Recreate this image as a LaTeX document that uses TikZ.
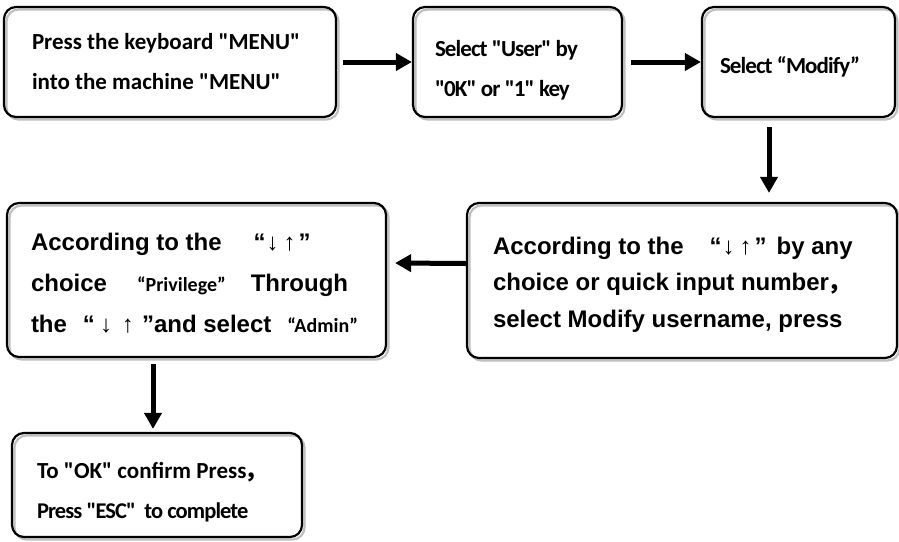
\documentclass[tikz,border=0pt]{standalone}
\usepackage{fontspec}
\setmainfont{Liberation Sans}
\newfontfamily\calibri{Carlito}
\newfontfamily\calibritight{Carlito}[LetterSpace=-4]
\newfontfamily\cjk{Noto Sans CJK SC}
\usetikzlibrary{arrows.meta,positioning,calc,shadows}
\def \fcomma {{\kern-2pt\cjk\bfseries ，}}
\def \updown {“\kern1pt↓\kern5pt↑\kern3pt”}
\def \updownwide {“\kern5pt↓\kern10pt↑\kern8pt”}
\def \cal #1{{\calibri\fontsize{20}{41}\selectfont #1}}

\begin{document}
\begin{tikzpicture} [
    x=1pt, y=-1pt, >={Triangle[length=16pt,width=17pt]},
    box/.style = {rectangle,rounded corners=12pt,draw=black,line width=2.2pt,align=flush left,
        drop shadow={shadow xshift=2.5pt,shadow yshift=-2.5pt,fill=none,draw=black!25,line width=2.2pt,opacity=1}},
    flow/.style = {->,line width=5pt},
    calfont/.style = {font=\calibri\bfseries\fontsize{23}{40}\selectfont},
    narrow/.style = {font=\calibritight\bfseries\fontsize{23}{40}\selectfont},
    arialfont/.style = {font=\bfseries\fontsize{24}{36.5}\selectfont},
    arialwide/.style = {font=\bfseries\fontsize{24}{41}\selectfont}
    ]

    \useasboundingbox (0,0) rectangle (899,541);

    % top row
    \node (b1) [box,calfont,text width=276pt,inner xsep=28pt,minimum height=110pt] at (170,62)
        {Press the keyboard "MENU"\\into the machine "MENU"};
    \node (b2) [box,narrow,text width=165pt,inner xsep=22pt,minimum height=110pt] at (517.5,62)
        {\rule{0pt}{32pt}Select "User" by\\"0K" or "1" key};
    \node (b3) [box,narrow,text width=157pt,inner xsep=18pt,minimum height=110pt] at (798.5,62)
        {\rule{0pt}{26pt}Select “Modify”};

    % middle row
    \node (b4) [box,arialfont,text width=378pt,inner xsep=26pt,minimum height=155pt] at (682,280.5)
        {\rule{0pt}{25pt}According to the\hspace{26pt}\updown\hspace{10pt}by any\\choice or quick input number\fcomma\\select Modify username, press};
    \node (b5) [box,arialwide,text width=331pt,inner xsep=24pt,minimum height=154pt] at (196.5,280)
        {\rule{0pt}{23pt}According to the\hspace{32pt}\updown\\choice\hspace{30pt}\cal{“Privilege”}\hspace{25pt}Through\\the\hspace{16pt}\updownwide and select\hspace{16pt}\cal{“Admin”}};

    % bottom
    \node (b6) [box,calfont,text width=240pt,inner xsep=25pt,minimum height=104pt] at (157,485)
        {\rule{0pt}{30pt}\mbox{To "OK" confirm Press\fcomma}\\{\calibritight\fontsize{22.5}{41}\selectfont Press "ESC" \ to complete}};

    \coordinate (d1) at ([xshift=-29.5pt]b3.south);
    \coordinate (d2) at ([xshift=-43.5pt]b5.south);

    \draw[flow] ([xshift=6pt]b1.east) -- (b2.west);
    \draw[flow] ([xshift=8pt]b2.east) -- (b3.west);
    \draw[flow] ([yshift=-9pt]d1) -- ([yshift=9pt]d1 |- b4.north);
    \draw[flow] ([yshift=17pt]b4.west) -- ([xshift=8pt,yshift=17pt]b5.east);
    \draw[flow] ([yshift=-6pt]d2) -- ([yshift=3pt]d2 |- b6.north);

\end{tikzpicture}
\end{document}
